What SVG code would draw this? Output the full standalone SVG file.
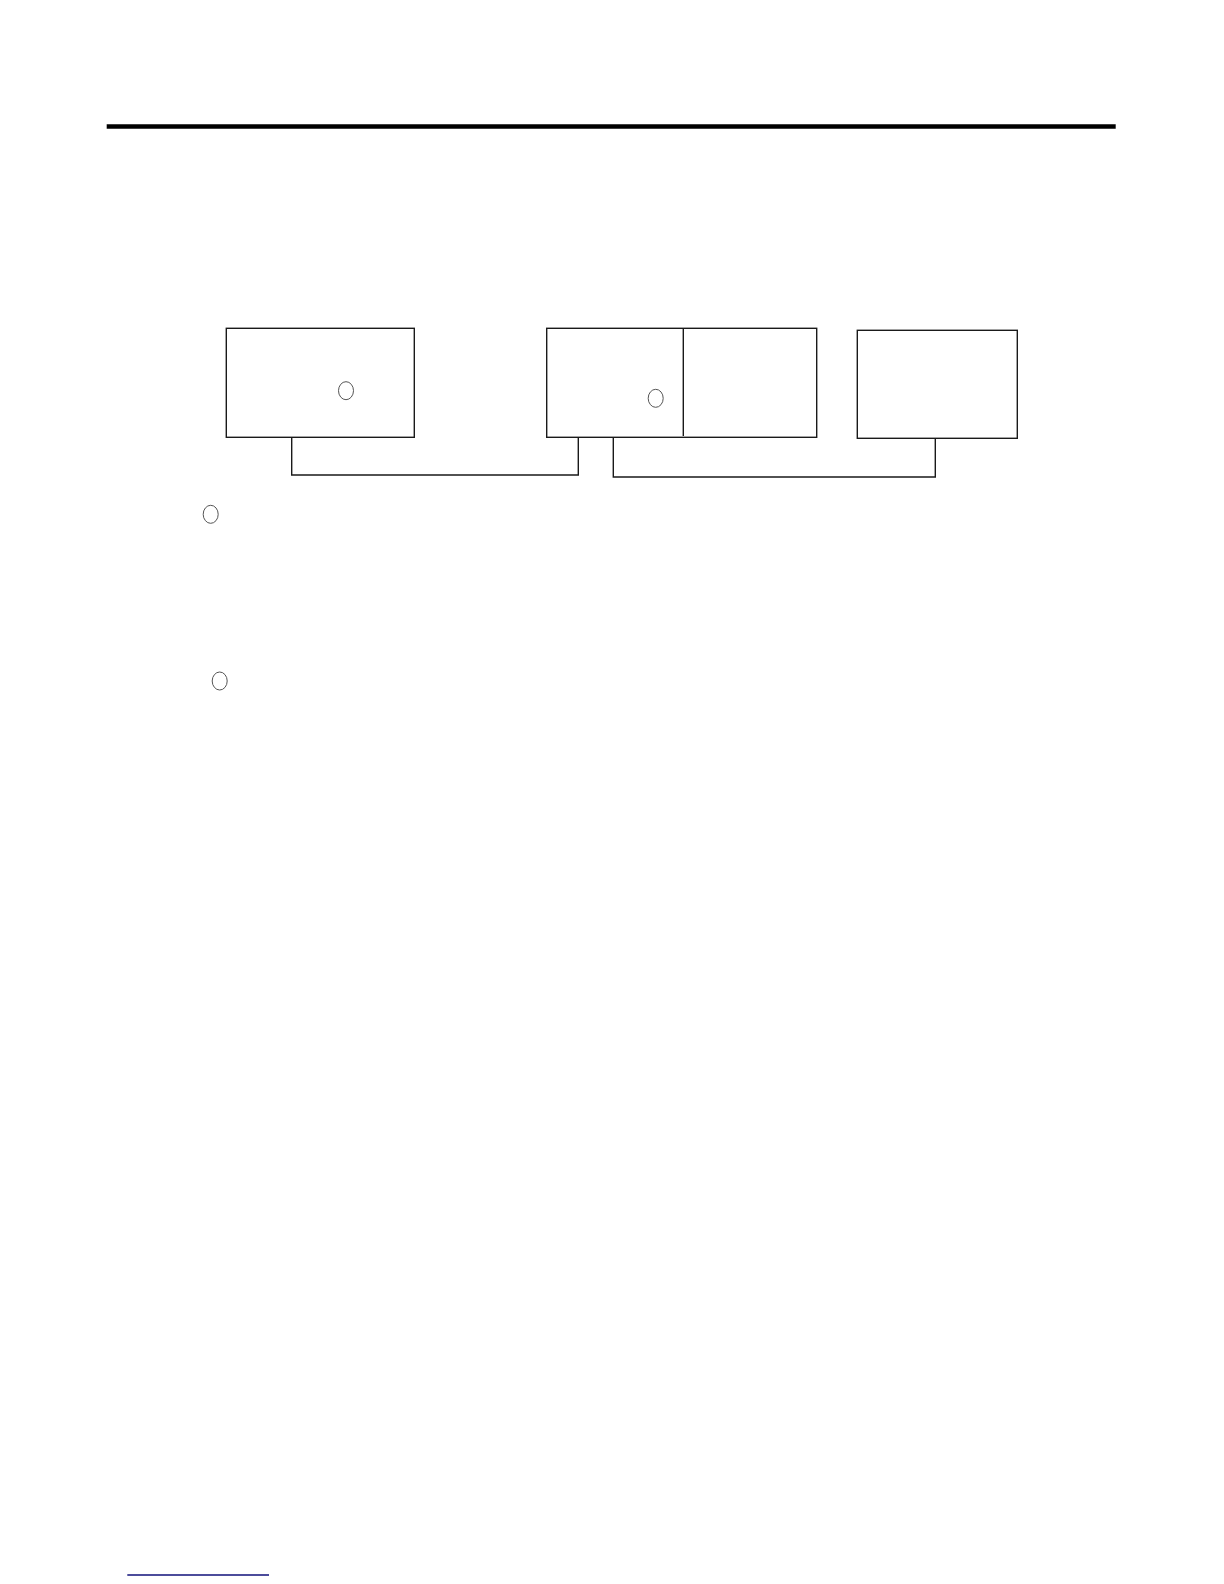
<svg xmlns="http://www.w3.org/2000/svg" width="1224" height="1584" viewBox="0 0 1224 1584">
<style>
.box{fill:none;stroke:#1a1a1a;stroke-width:1.4}
.conn{fill:none;stroke:#1a1a1a;stroke-width:1.4}
.mark{fill:none;stroke:#555;stroke-width:1}
</style>
<rect width="1224" height="1584" fill="#fff"/>
<line x1="106.7" y1="126.5" x2="1115.7" y2="126.5" stroke="#000" stroke-width="4.5"/>
<g id="node1">
<rect class="box" x="226.3" y="328.3" width="188" height="109"/>
<ellipse class="mark" cx="346" cy="390.7" rx="7.5" ry="9"/>
</g>
<g id="node2">
<rect class="box" x="546.7" y="328.3" width="270" height="109"/>
<line class="box" x1="683.3" y1="328.3" x2="683.3" y2="436"/>
<ellipse class="mark" cx="655.7" cy="398.3" rx="7.5" ry="9"/>
</g>
<g id="node3">
<rect class="box" x="857.3" y="330.3" width="160" height="108"/>
</g>
<g id="connectors">
<polyline class="conn" points="291.7,437.3 291.7,475 578.3,475 578.3,437.3"/>
<polyline class="conn" points="613.3,437.3 613.3,477 935.3,477 935.3,438.3"/>
</g>
<g id="marks">
<ellipse class="mark" cx="210.7" cy="514.3" rx="7.5" ry="9"/>
<ellipse class="mark" cx="219.7" cy="681" rx="7.5" ry="9"/>
</g>
<line x1="127.3" y1="1575" x2="269" y2="1575" stroke="#10107a" stroke-width="1.6"/>
</svg>
